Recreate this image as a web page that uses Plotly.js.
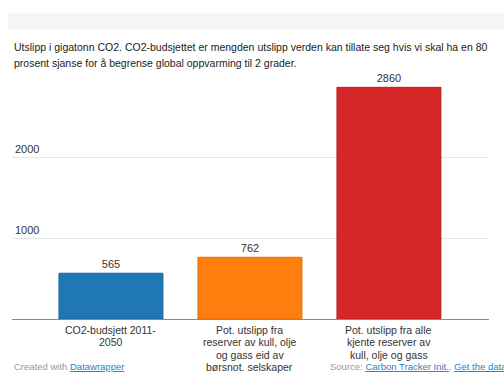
<!DOCTYPE html>
<html><head><meta charset="utf-8">
<script src="https://cdn.plot.ly/plotly-3.0.1.min.js"></script>
<style>html,body{margin:0;padding:0;background:#fff;}#chart{width:504px;height:374px;}</style>
</head><body><div id="chart"></div>
<script>
const categories = ["CO2-budsjett 2011-<br>2050", "Pot. utslipp fra<br>reserver av kull, olje<br>og gass eid av<br>børsnot. selskaper", "Pot. utslipp fra alle<br>kjente reserver av<br>kull, olje og gass"];
const values = [565, 762, 2860];
const barColors = ["#1f77b4", "#ff7f0e", "#d62728"];
const borderColors = ["#1a64a0", "#e06f0c", "#b82022"];
const tickVals = [1000, 2000];
const tickText = ["1000", "2000"];
const titleLines = ["Utslipp i gigatonn CO2. CO2-budsjettet er mengden utslipp verden kan tillate seg hvis vi skal ha en 80", "prosent sjanse for å begrense global oppvarming til 2 grader."];

const W = 504, H = 374;
const mL = 12, mR = 15, mT = 76, mB = 55;
const pw = W - mL - mR, ph = H - mT - mB;
const FONT = "Liberation Sans, Arial, sans-serif";

const trace = {
  type: "bar",
  x: [0, 1, 2],
  y: values,
  width: 0.748,
  marker: {color: barColors, line: {color: borderColors, width: 1}},
  text: values.map(String),
  textposition: "outside",
  cliponaxis: false,
  textfont: {family: FONT, size: 11, color: "#333"},
  hoverinfo: "none"
};

// category labels, one annotation per line for tight line spacing
const catAnnotations = [];
categories.forEach((c, i) => {
  c.split("<br>").forEach((line, j) => {
    const yc = 330 + j * 12.4;
    catAnnotations.push({
      xref: "x", yref: "paper", x: i, y: (H - mB - yc) / ph,
      xanchor: "center", yanchor: "middle", showarrow: false,
      text: line, font: {family: FONT, size: 10.5, color: "#333"}
    });
  });
});

const titleAnnotations = titleLines.map((t, j) => ({
  xref: "paper", yref: "paper", x: 0, y: (H - mB - (47 + j * 16)) / ph,
  xanchor: "left", yanchor: "middle", showarrow: false,
  text: t, font: {family: FONT, size: 10.5, color: "#222"}
}));

const layout = {
  width: W, height: H,
  margin: {l: mL, r: mR, t: mT, b: mB, pad: 0},
  paper_bgcolor: "#fff", plot_bgcolor: "#fff",
  showlegend: false,
  font: {family: FONT, size: 11, color: "#333"},
  xaxis: {
    range: [-0.712, 2.72],
    tickvals: [0, 1, 2],
    showticklabels: false,
    ticks: "",
    showgrid: false,
    zeroline: false,
    showline: false,
    fixedrange: true
  },
  yaxis: {
    range: [0, 3000],
    tickvals: tickVals,
    ticktext: tickText,
    ticklabelposition: "inside top",
    showgrid: true,
    gridcolor: "#e6e6e6",
    gridwidth: 1,
    zeroline: true,
    zerolinecolor: "#8a8a8a",
    zerolinewidth: 1,
    showline: false,
    ticks: "",
    tickfont: {size: 11, color: "#333"},
    fixedrange: true
  },
  shapes: [{
    type: "rect", xref: "paper", yref: "paper",
    x0: (8 - mL) / pw, x1: (W - mL) / pw,
    y0: (H - mB - 29) / ph, y1: (H - mB - 13) / ph,
    fillcolor: "#f5f5f5", line: {width: 0}, layer: "below"
  }],
  annotations: titleAnnotations.concat(catAnnotations).concat([
    {
      xref: "paper", yref: "paper", x: 0, y: (H - mB - 366) / ph,
      xanchor: "left", yanchor: "middle", showarrow: false,
      text: "Created with <span style='color:#2a7fc9;text-decoration:underline'>Datawrapper</span>",
      font: {family: FONT, size: 9.5, color: "#999"}
    },
    {
      xref: "paper", yref: "paper", x: (328 - mL) / pw, y: (H - mB - 366) / ph,
      xanchor: "left", yanchor: "middle", showarrow: false,
      text: "Source: <span style='color:#2a7fc9;text-decoration:underline'>Carbon Tracker Init.</span>, <span style='color:#2a7fc9;text-decoration:underline'>Get the data</span>",
      font: {family: FONT, size: 9.5, color: "#999"}
    }
  ])
};

Plotly.newPlot("chart", [trace], layout, {displayModeBar: false, staticPlot: true});
</script>
</body></html>
